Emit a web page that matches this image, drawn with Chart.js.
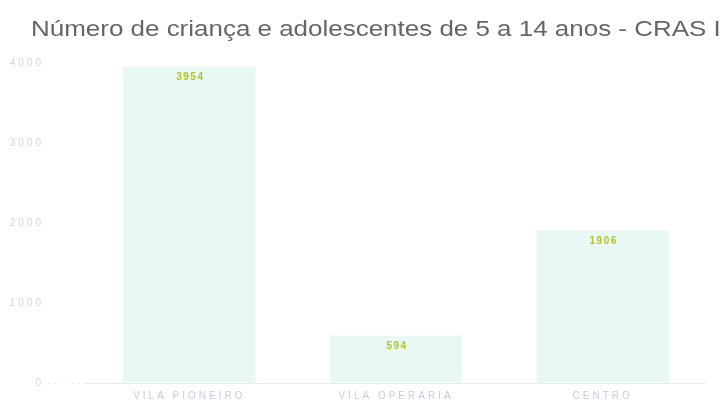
<!DOCTYPE html>
<html>
<head>
<meta charset="utf-8">
<script src="https://cdn.jsdelivr.net/npm/chart.js@4/dist/chart.umd.min.js"></script>
<style>
  html, body { margin: 0; padding: 0; background: #fff; overflow: hidden; }
  canvas { display: block; }
</style>
</head>
<body>
<canvas id="crasChart" width="721" height="403"></canvas>
<script>
const titleText = 'Número de criança e adolescentes de 5 a 14 anos - CRAS I';
const bairros = ['VILA PIONEIRO', 'VILA OPERARIA', 'CENTRO'];
const criancas = [3954, 594, 1906];
const yTicks = [0, 1000, 2000, 3000, 4000];

const FONT = '"Liberation Sans", Arial, sans-serif';

// title is drawn by hand so it can start left of the axis labels' box
const titleAndSpacing = {
    id: 'titleAndSpacing',
    beforeDraw(chart) {
        const ctx = chart.ctx;
        ctx.save();
        ctx.font = '22px ' + FONT;
        ctx.fillStyle = '#666666';
        ctx.textAlign = 'left';
        ctx.textBaseline = 'alphabetic';
        ctx.translate(31, 36);
        ctx.scale(1.18, 1); // reference text looks stretched sideways
        ctx.fillText(titleText, 0, 0);
        ctx.restore();
        // the axis text in the reference is widely spaced
        ctx.letterSpacing = '3px';
    }
};

// draws the value near the top of each bar
const valueLabels = {
    id: 'valueLabels',
    afterDatasetsDraw(chart) {
        const ctx = chart.ctx;
        const meta = chart.getDatasetMeta(0);
        ctx.save();
        ctx.font = 'bold 10px ' + FONT;
        ctx.letterSpacing = '1.5px';
        ctx.fillStyle = '#b3c424';
        ctx.textAlign = 'center';
        ctx.textBaseline = 'middle';
        meta.data.forEach((bar, i) => {
            ctx.fillText(String(criancas[i]), bar.x + 1, bar.y + 11);
        });
        ctx.restore();
    }
};

new Chart(document.getElementById('crasChart'), {
    type: 'bar',
    data: {
        labels: bairros,
        datasets: [{
            data: criancas,
            backgroundColor: '#e8f8f2',
            borderWidth: 0,
            barPercentage: 0.8,
            categoryPercentage: 0.8,
        }],
    },
    options: {
        responsive: false,
        animation: false,
        devicePixelRatio: 1,
        layout: { padding: { left: 0, right: 15, top: 63, bottom: 0 } },
        plugins: {
            legend: { display: false },
            tooltip: { enabled: false },
            title: { display: false },
        },
        scales: {
            x: {
                afterFit: (scale) => { scale.height = 20; },
                grid: { display: false, drawTicks: false },
                border: { display: false },
                ticks: {
                    color: '#cfc8df',
                    font: { family: FONT, size: 10 },
                    padding: 7,
                    maxRotation: 0,
                },
            },
            y: {
                min: 0,
                max: 4000,
                afterFit: (scale) => { scale.width = 86; },
                afterBuildTicks: (scale) => { scale.ticks = yTicks.map(v => ({ value: v })); },
                grid: {
                    color: (c) => (c.tick && c.tick.value === 0 ? '#eee8f0' : 'rgba(0,0,0,0)'),
                    tickColor: (c) => (c.tick && c.tick.value === 0 ? '#f0ecf2' : 'rgba(0,0,0,0)'),
                    tickLength: 38,
                    tickBorderDash: [2, 4],
                },
                border: { display: false },
                ticks: {
                    color: '#d8d2ea',
                    font: { family: FONT, size: 10 },
                    padding: 4,
                    callback: (v) => String(v),
                },
            },
        },
    },
    plugins: [titleAndSpacing, valueLabels],
});
</script>
</body>
</html>
